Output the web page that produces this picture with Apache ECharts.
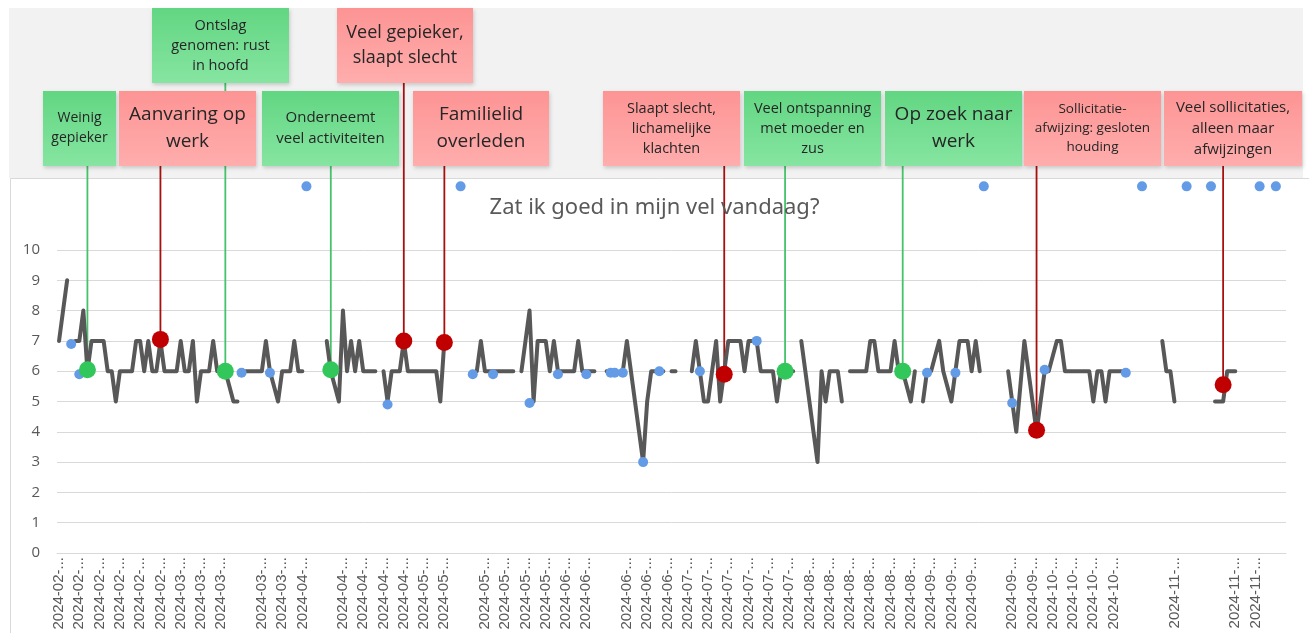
<!DOCTYPE html>
<html>
<head>
<meta charset="utf-8">
<script src="https://cdn.jsdelivr.net/npm/echarts@6/dist/echarts.min.js"></script>
<style>
html, body { margin: 0; padding: 0; background: #fff; }
#main { width: 1309px; height: 633px; }
</style>
</head>
<body>
<div id="main"></div>
<script>
// one category per day, starting 1 feb 2024
const firstDay = [2024, 1, 1];
const dayCount = 303;
const labelEvery = 5;
// label slots (every 5th day) that have no date in the sheet
const blankLabelSlots = [9, 13, 20, 27, 46, 53, 54, 56, 57, 60];

// mood score per day, as runs: [first day index, values]
const moodRuns = [
  [0, [7, 8, 9]],
  [4, [7, 7, 8, 6, 7, 7, 7, 7, 6, 6, 5, 6, 6, 6, 6, 7, 7, 6, 7, 6, 6, 7, 6, 6, 6, 6, 7, 6, 6, 7, 5, 6, 6, 6, 7, 6, 6, 6, 5.5, 5, 5]],
  [46, [6, 6, 6, 6, 6, 7, 6, 5.5, 5, 6, 6, 6, 7, 6, 6]],
  [66, [7, 6, 5.5, 5, 8, 6, 7, 6, 7, 6, 6, 6, 6]],
  [80, [6, 5, 6, 6, 6, 7, 6, 6, 6, 6, 6, 6, 6, 6, 5, 7]],
  [103, [6, 7, 6, 6, 6, 6, 6, 6, 6, 6]],
  [114, [6, 7, 8, 5, 7, 7, 7, 6, 7, 6, 6, 6, 6, 6, 7, 6, 6, 6, 6]],
  [135, [6, 6]],
  [139, [6, 7, 6, 5, 4, 3, 5, 6, 6, 6, 6]],
  [151, [6, 6]],
  [156, [6, 7, 6, 5, 5, 6, 7, 5, 6, 7, 7, 7, 7, 6, 7, 7, 7, 6, 6, 6, 6, 5, 6, 6, 6, 6]],
  [183, [7, 6, 5, 4, 3, 6, 5, 6, 6, 6, 5]],
  [195, [6, 6, 6, 6, 6, 7, 7, 6, 6, 6, 6, 7, 6, 6, 5.5, 5, 6]],
  [213, [5, 6, 6, 6.5, 7, 6, 5.5, 5, 6, 7, 7, 7, 6, 7, 6]],
  [234, [6, 5, 4, 5.5, 7, 6, 5, 4, 5, 6, 6, 6.5, 7, 7, 6, 6, 6, 6, 6, 6, 6, 5, 6, 6, 5, 6, 6, 6, 6]],
  [272, [7, 6, 6, 5]],
  [285, [5, 5, 5, 6, 6, 6]]
];

// loose blue points
const blueDays = [3, 5, 45, 52, 61, 81, 99, 102, 107, 116, 123, 130, 136, 137, 139, 144, 148, 158, 172, 214, 221, 228, 235, 243, 263, 267, 278, 284, 296, 300];
const blueValues = [6.9, 5.9, 5.95, 5.95, 12.1, 4.9, 12.1, 5.9, 5.9, 4.95, 5.9, 5.9, 5.95, 5.95, 5.95, 3, 6, 6, 7, 5.95, 5.95, 12.1, 4.95, 6.05, 5.95, 12.1, 12.1, 12.1, 12.1, 12.1];

// events
const eventDays = [7, 25, 41, 67, 85, 95, 164, 179, 208, 241, 287];
const eventValues = [6.05, 7.05, 6, 6.05, 7, 6.95, 5.9, 6, 6, 4.05, 5.55];
const eventKinds = ['pos', 'neg', 'pos', 'pos', 'neg', 'neg', 'neg', 'pos', 'pos', 'neg', 'neg'];
const eventTexts = [
  'Weinig\ngepieker',
  'Aanvaring op\nwerk',
  'Ontslag\ngenomen: rust\nin hoofd',
  'Onderneemt\nveel activiteiten',
  'Veel gepieker,\nslaapt slecht',
  'Familielid\noverleden',
  'Slaapt slecht,\nlichamelijke\nklachten',
  'Veel ontspanning\nmet moeder en\nzus',
  'Op zoek naar\nwerk',
  'Sollicitatie-\nafwijzing: gesloten\nhouding',
  'Veel sollicitaties,\nalleen maar\nafwijzingen'
];
// note layout: x, y, w, h, font size
const noteBoxes = [
  [43, 91, 73, 75, 14],
  [119, 91, 137, 75, 19],
  [152, 8, 137, 75, 14.5],
  [262, 91, 137, 75, 15],
  [337, 8, 136, 75, 18],
  [413, 91, 136, 75, 19],
  [603, 91, 137, 75, 14.5],
  [744, 91, 137, 75, 14.5],
  [885, 91, 137, 75, 19],
  [1024, 91, 137, 75, 13.5],
  [1164, 91, 138, 75, 15]
];

const days = [];
const t0 = Date.UTC(firstDay[0], firstDay[1], firstDay[2]);
for (let i = 0; i < dayCount; i++) {
  days.push(new Date(t0 + i * 86400000).toISOString().slice(0, 10));
}
const mood = new Array(dayCount).fill(null);
moodRuns.forEach(([start, vals]) => vals.forEach((v, k) => { mood[start + k] = v; }));

const chart = echarts.init(document.getElementById('main'));
chart.setOption({
  animation: false,
  backgroundColor: '#fff',
  title: {
    text: 'Zat ik goed in mijn vel vandaag?',
    left: 'center',
    top: 192,
    textStyle: { fontFamily: 'Noto Sans', fontSize: 22, fontWeight: 'normal', color: '#595959' }
  },
  grid: { left: 57, right: 23, top: 250, bottom: 80 },
  xAxis: {
    type: 'category',
    data: days,
    boundaryGap: true,
    axisLine: { lineStyle: { color: '#d9d9d9' } },
    axisTick: { show: false },
    axisLabel: {
      interval: labelEvery - 1,
      rotate: 90,
      margin: 4,
      fontFamily: 'Liberation Sans',
      fontSize: 15,
      color: '#595959',
      formatter: (v, i) => blankLabelSlots.includes(i / labelEvery) ? '' : v.slice(0, 8) + '...'
    }
  },
  yAxis: {
    type: 'value',
    min: 0,
    max: 10,
    interval: 1,
    axisLine: { show: false },
    axisTick: { show: false },
    axisLabel: { fontFamily: 'Open Sans', fontSize: 15, color: '#595959', margin: 17 },
    splitLine: { lineStyle: { color: '#d9d9d9' } }
  },
  series: [
    {
      type: 'line',
      data: mood,
      showSymbol: false,
      connectNulls: false,
      lineStyle: { color: '#585858', width: 4, join: 'round', cap: 'round' },
      z: 2
    },
    {
      type: 'scatter',
      data: blueDays.map((d, i) => [d, blueValues[i]]),
      symbolSize: 10,
      itemStyle: { color: '#639be6', opacity: 1 },
      clip: false,
      z: 3
    },
    {
      type: 'scatter',
      data: eventDays.map((d, i) => ({
        value: [d, eventValues[i]],
        itemStyle: { color: eventKinds[i] === 'neg' ? '#c00000' : '#31c75a', opacity: 1 }
      })),
      symbolSize: 17,
      clip: false,
      z: 5
    }
  ]
});

const noteFill = { pos: ['#62d682', '#86e5a1'], neg: ['#fd9494', '#ffadad'] };
const stickColor = { pos: '#45c26a', neg: '#a80f0f' };
const graphics = [
  { type: 'rect', shape: { x: 9, y: 8, width: 1294, height: 170 }, style: { fill: '#f2f2f2' }, z: 0, silent: true },
  { type: 'rect', shape: { x: 10.5, y: 178.5, width: 1320, height: 500 }, style: { fill: 'none', stroke: '#d9d9d9', lineWidth: 1 }, z: 0, silent: true }
];
eventDays.forEach((d, i) => {
  const [bx, by, bw, bh, fs] = noteBoxes[i];
  const kind = eventKinds[i];
  const p = chart.convertToPixel({ gridIndex: 0 }, [d, eventValues[i]]);
  graphics.push({
    type: 'line',
    shape: { x1: p[0], y1: by + bh, x2: p[0], y2: p[1] },
    style: { stroke: stickColor[kind], lineWidth: 1.8 },
    z: 1, silent: true
  });
  graphics.push({
    type: 'rect',
    shape: { x: bx, y: by, width: bw, height: bh },
    style: {
      fill: { type: 'linear', x: 0, y: 0, x2: 0, y2: 1, colorStops: [
        { offset: 0, color: noteFill[kind][0] }, { offset: 1, color: noteFill[kind][1] }
      ] },
      shadowBlur: 4, shadowOffsetX: 1, shadowOffsetY: 2, shadowColor: 'rgba(0,0,0,0.18)'
    },
    z: 2, silent: true
  });
  graphics.push({
    type: 'text',
    x: bx + bw / 2,
    y: by + bh / 2,
    style: {
      text: eventTexts[i],
      fontFamily: 'Open Sans',
      fontSize: fs,
      fill: '#262626',
      align: 'center',
      verticalAlign: 'middle',
      lineHeight: Math.round(fs * 1.4)
    },
    z: 3, silent: true
  });
});
chart.setOption({ graphic: graphics });
</script>
</body>
</html>
